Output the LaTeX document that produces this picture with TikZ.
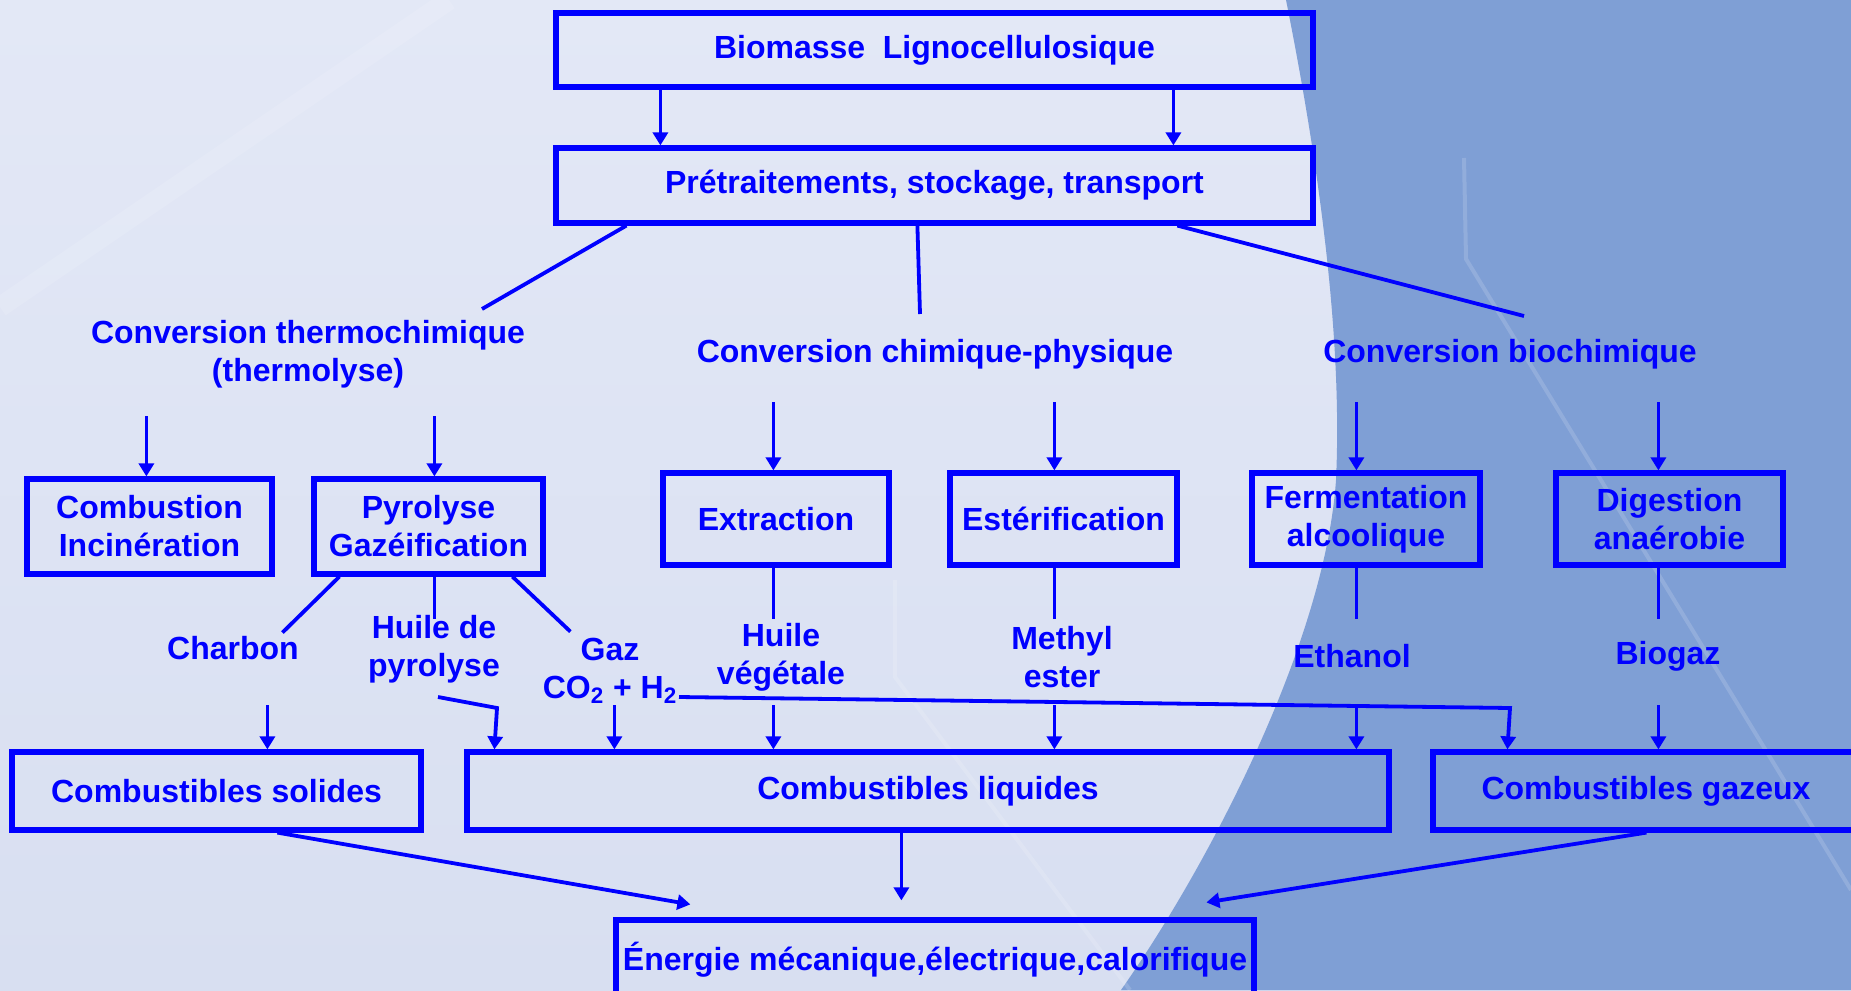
\documentclass[tikz,border=0pt]{standalone}
\usepackage{fontspec}
\setmainfont{Liberation Sans}
\usetikzlibrary{arrows.meta,calc}
\definecolor{bgt}{HTML}{E3E8F6}
\definecolor{bgb}{HTML}{D8DFF1}
\definecolor{bgr}{HTML}{7F9FD5}
\definecolor{fg}{HTML}{0000FF}
\begin{document}
\begin{tikzpicture}[x=0.5pt,y=-0.5pt,
  txt/.style={text=fg, font=\bfseries\fontsize{16}{19}\selectfont, align=center, inner sep=0pt},
  box/.style 2 args={txt, draw=fg, line width=2.6pt, minimum width=#1pt, minimum height=#2pt},
  ln/.style={draw=fg, line width=1.9pt},
  arr/.style={draw=fg, line width=1.9pt, -{Triangle[width=7.5pt,length=6.5pt]}},
  streak/.style={draw=white, opacity=0.15, line width=2pt}]
\useasboundingbox (0,0) rectangle (1851,990);
\clip (0,0) rectangle (1851,990);
% background
\shade[top color=bgt, bottom color=bgb] (0,0) rectangle (1851,990);
\fill[bgr] (1286,0) .. controls (1316,150) and (1343,330) .. (1336,480)
  .. controls (1325,640) and (1212,860) .. (1121,990) -- (1851,990) -- (1851,0) -- cycle;
\draw[streak, line width=10pt, opacity=0.12] (0,307) -- (449,0);
\draw[streak] (895,580) -- (895,677) -- (1130,990);
\draw[streak] (1464,158) -- (1466,259) -- (1851,890);
% boxes
\node[box={378.5}{37}] (bio) at (934.5,50) {Biomasse~~Lignocellulosique};
\node[box={378.5}{37.5}] (pre) at (934.5,185.5) {Prétraitements, stockage, transport};
\node[box={122.5}{47.5}] (comb) at (149.5,526.5) {Combustion\\Incinération};
\node[box={114.5}{47.5}] (pyro) at (428.5,526.5) {Pyrolyse\\Gazéification};
\node[box={113}{46}] (extr) at (776,519) {Extraction};
\node[box={113.5}{46}] (ester) at (1063.5,519) {Estérification};
\node[box={114}{46}] (ferm) at (1366,519) {Fermentation\\alcoolique};
\node[box={113.5}{46}] (dig) at (1669.5,519) {Digestion\\anaérobie};
\node[box={204.5}{39}] (sol) at (216.5,791) {Combustibles solides};
\node[box={461}{39}] (liq) at (928,791) {Combustibles liquides};
\node[box={213}{39}] (gaz) at (1646,791) {Combustibles gazeux};
\node[box={319}{40}] (ener) at (935,960) {Énergie mécanique,électrique,calorifique};
% labels
\node[txt] (thermo) at (308,354) {Conversion thermochimique\\(thermolyse)};
\node[txt] (chim) at (935,354) {Conversion chimique-physique};
\node[txt] (bioc) at (1510,354) {Conversion biochimique};
\node[txt] (charbon) at (233,648) {Charbon};
\node[txt] (huilep) at (434,649) {Huile de\\pyrolyse};
\node[txt] (gazt) at (610,671) {Gaz\\CO\textsubscript{2} + H\textsubscript{2}};
\node[txt] (huilev) at (781,657) {Huile\\végétale};
\node[txt] (methyl) at (1062,657) {Methyl\\ester};
\node[txt] (ethanol) at (1352,656) {Ethanol};
\node[txt] (biogaz) at (1668,656) {Biogaz};
% free ends
\coordinate (tA) at (482,309);
\coordinate (tB) at (920,314);
\coordinate (tC) at (1524,316);
\coordinate (hp1) at (438,697);
\coordinate (hp2) at (497,708);
\coordinate (gz1) at (679,697);
\coordinate (gz2) at (1510,708);
% top
\draw[arr] ($(bio.south west)+(107,0)$) -- ($(pre.north west)+(107,0)$);
\draw[arr] ($(bio.south west)+(620,0)$) -- ($(pre.north west)+(620,0)$);
\draw[ln] ($(pre.south west)+(73,0)$) -- (tA);
\draw[ln] ($(pre.south west)+(364,0)$) -- (tB);
\draw[ln] ($(pre.south west)+(624,0)$) -- (tC);
% arrows into process boxes
\draw[arr] ($(comb.north west)+(122,-60)$) -- ($(comb.north west)+(122,0)$);
\draw[arr] ($(pyro.north west)+(123,-60)$) -- ($(pyro.north west)+(123,0)$);
\draw[arr] ($(extr.north west)+(113,-68)$) -- ($(extr.north west)+(113,0)$);
\draw[arr] ($(ester.north west)+(107,-68)$) -- ($(ester.north west)+(107,0)$);
\draw[arr] ($(ferm.north west)+(107,-68)$) -- ($(ferm.north west)+(107,0)$);
\draw[arr] ($(dig.north west)+(105,-68)$) -- ($(dig.north west)+(105,0)$);
% lines out of process boxes
\draw[ln] ($(pyro.south west)+(28,0)$) -- ($(pyro.south west)+(-29,56)$);
\draw[ln] ($(pyro.south west)+(123,0)$) -- ($(pyro.south west)+(123,42)$);
\draw[ln] ($(pyro.south west)+(201,0)$) -- ($(pyro.south west)+(259,55)$);
\draw[ln] ($(extr.south west)+(113,0)$) -- ++(0,51);
\draw[ln] ($(ester.south west)+(107,0)$) -- ++(0,51);
\draw[ln] ($(ferm.south west)+(107,0)$) -- ++(0,51);
\draw[ln] ($(dig.south west)+(105,0)$) -- ++(0,51);
% arrows into fuel boxes
\draw[arr] ($(sol.north west)+(258,-44)$) -- ($(sol.north west)+(258,0)$);
\draw[arr] (hp1) -- (hp2) -- ($(liq.north west)+(30,0)$);
\draw[arr] ($(liq.north west)+(150,-44)$) -- ($(liq.north west)+(150,0)$);
\draw[arr] ($(liq.north west)+(309,-44)$) -- ($(liq.north west)+(309,0)$);
\draw[arr] ($(liq.north west)+(590,-44)$) -- ($(liq.north west)+(590,0)$);
\draw[arr] ($(liq.north west)+(892,-44)$) -- ($(liq.north west)+(892,0)$);
\draw[arr] (gz1) -- (gz2) -- ($(gaz.north west)+(77,0)$);
\draw[arr] ($(gaz.north west)+(228,-44)$) -- ($(gaz.north west)+(228,0)$);
% to energy
\draw[arr] ($(sol.south west)+(268,0)$) -- ($(ener.north west)+(77,-13)$);
\draw[arr] ($(liq.south west)+(437,0)$) -- ($(ener.north west)+(288,-17)$);
\draw[arr] ($(gaz.south west)+(216,0)$) -- ($(ener.north west)+(593,-15)$);
\end{tikzpicture}
\end{document}
